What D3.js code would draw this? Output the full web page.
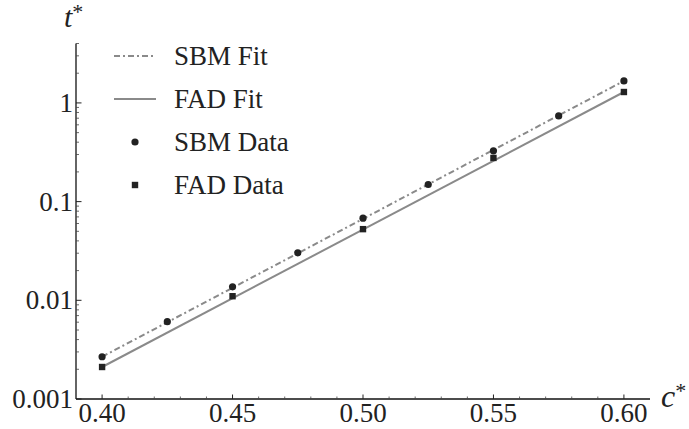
<!DOCTYPE html>
<html>
<head>
<meta charset="utf-8">
<script src="https://cdn.jsdelivr.net/npm/d3@7"></script>
<style>
  html, body { margin: 0; padding: 0; background: #fff; }
  svg { display: block; }
  text { font-family: "Liberation Serif", "Times New Roman", serif; fill: #222; }
</style>
</head>
<body>
<svg id="chart" width="689" height="429"></svg>
<script>
// ---- data ----
const cSBM = [0.400, 0.425, 0.450, 0.475, 0.500, 0.525, 0.550, 0.575, 0.600];
const tSBM = [0.00268, 0.00607, 0.0137, 0.0303, 0.068, 0.149, 0.327, 0.738, 1.67];
const cFAD = [0.40, 0.45, 0.50, 0.55, 0.60];
const tFAD = [0.00211, 0.0110, 0.0526, 0.277, 1.29];
const cFit = [0.40, 0.60];
const sbmFit = [0.00268, 1.67];
const fadFit = [0.00211, 1.29];
const xTickValues = [0.40, 0.45, 0.50, 0.55, 0.60];
const xTickLabels = ["0.40", "0.45", "0.50", "0.55", "0.60"];
const yTickValues = [0.001, 0.01, 0.1, 1];
const yTickLabels = ["0.001", "0.01", "0.1", "1"];
const legendLabels = ["SBM Fit", "FAD Fit", "SBM Data", "FAD Data"];

// ---- layout ----
const svg = d3.select("#chart");
const x = d3.scaleLinear().domain([0.39, 0.61]).range([76, 650]);
const y = d3.scaleLog().domain([0.001, 4]).range([399, 43.5]);
const lineCol = "#8a8a8a";
const markCol = "#222";

// minor ticks
const xMinor = d3.range(40, 61).map(d => d / 100).filter(v => !xTickValues.some(t => Math.abs(t - v) < 1e-9));
const yMinor = [];
[0.001, 0.01, 0.1, 1].forEach(dec => {
  for (let k = 2; k <= 9; k++) { const v = dec * k; if (v <= 4.0001) yMinor.push(v); }
});

const ax = svg.append("g");
ax.append("line").attr("x1", x.range()[0]).attr("x2", x.range()[1]).attr("y1", 399).attr("y2", 399)
  .attr("stroke", "#111").attr("stroke-width", 1.3);
ax.append("line").attr("x1", 76).attr("x2", 76).attr("y1", y.range()[0]).attr("y2", y.range()[1])
  .attr("stroke", "#111").attr("stroke-width", 1.3);

// x ticks (inside)
ax.selectAll(".xmaj").data(xTickValues).join("line")
  .attr("x1", d => x(d)).attr("x2", d => x(d)).attr("y1", 399).attr("y2", 394.5)
  .attr("stroke", "#222").attr("stroke-width", 1);
ax.selectAll(".xmin").data(xMinor).join("line")
  .attr("x1", d => x(d)).attr("x2", d => x(d)).attr("y1", 399).attr("y2", 396.5)
  .attr("stroke", "#444").attr("stroke-width", 0.8);
ax.selectAll(".xlab").data(xTickValues).join("text")
  .attr("x", d => x(d)).attr("y", 422)
  .attr("text-anchor", "middle").attr("font-size", 27)
  .text((d, i) => xTickLabels[i]);

// y ticks (inside)
ax.selectAll(".ymaj").data(yTickValues).join("line")
  .attr("x1", 76).attr("x2", 81.5).attr("y1", d => y(d)).attr("y2", d => y(d))
  .attr("stroke", "#222").attr("stroke-width", 1);
ax.selectAll(".ymin").data(yMinor).join("line")
  .attr("x1", 76).attr("x2", 79).attr("y1", d => y(d)).attr("y2", d => y(d))
  .attr("stroke", "#444").attr("stroke-width", 0.8);
ax.selectAll(".ylab").data(yTickValues).join("text")
  .attr("x", 73).attr("y", d => y(d)).attr("dy", "0.34em")
  .attr("text-anchor", "end").attr("font-size", 27)
  .text((d, i) => yTickLabels[i]);

// axis titles
const tt = svg.append("text").attr("x", 64).attr("y", 27).attr("font-size", 30).attr("font-style", "italic");
tt.append("tspan").text("t");
tt.append("tspan").attr("font-size", 22).attr("font-style", "normal").attr("dy", -8).text("*");
const ct = svg.append("text").attr("x", 661).attr("y", 407).attr("font-size", 32).attr("font-style", "italic");
ct.append("tspan").text("c");
ct.append("tspan").attr("font-size", 22).attr("font-style", "normal").attr("dy", -9).text("*");

// fit lines
const line = d3.line().x(d => x(d[0])).y(d => y(d[1]));
svg.append("path").datum(cFit.map((c, i) => [c, sbmFit[i]])).attr("d", line)
  .attr("fill", "none").attr("stroke", lineCol).attr("stroke-width", 2)
  .attr("stroke-dasharray", "6,3,2,3");
svg.append("path").datum(cFit.map((c, i) => [c, fadFit[i]])).attr("d", line)
  .attr("fill", "none").attr("stroke", lineCol).attr("stroke-width", 2);

// data points
svg.selectAll(".sbm").data(cSBM.map((c, i) => [c, tSBM[i]])).join("circle")
  .attr("cx", d => x(d[0])).attr("cy", d => y(d[1])).attr("r", 3.6).attr("fill", markCol);
svg.selectAll(".fad").data(cFAD.map((c, i) => [c, tFAD[i]])).join("rect")
  .attr("x", d => x(d[0]) - 3.2).attr("y", d => y(d[1]) - 3.2)
  .attr("width", 6.4).attr("height", 6.4).attr("fill", markCol);

// legend
const lg = svg.append("g");
const rows = [56, 99, 142, 185];
lg.append("line").attr("x1", 114).attr("x2", 156).attr("y1", rows[0]).attr("y2", rows[0])
  .attr("stroke", lineCol).attr("stroke-width", 2).attr("stroke-dasharray", "6,3,2,3");
lg.append("line").attr("x1", 114).attr("x2", 156).attr("y1", rows[1]).attr("y2", rows[1])
  .attr("stroke", lineCol).attr("stroke-width", 2);
lg.append("circle").attr("cx", 135).attr("cy", rows[2]).attr("r", 3.6).attr("fill", markCol);
lg.append("rect").attr("x", 135 - 3.2).attr("y", rows[3] - 3.2).attr("width", 6.4).attr("height", 6.4).attr("fill", markCol);
lg.selectAll(".lt").data(legendLabels).join("text")
  .attr("x", 174).attr("y", (d, i) => rows[i]).attr("dy", "0.34em")
  .attr("font-size", 27).text(d => d);
</script>
</body>
</html>
